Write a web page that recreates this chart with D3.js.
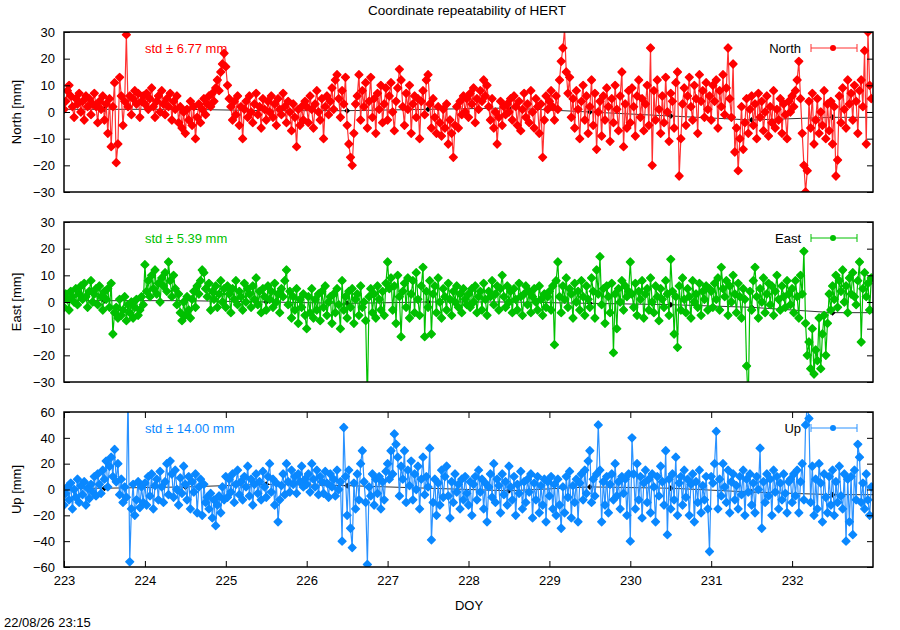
<!DOCTYPE html>
<html><head><meta charset="utf-8">
<script src="https://cdn.jsdelivr.net/npm/d3@7"></script>
<style>body{margin:0;background:#fff}svg{display:block;font-family:"Liberation Sans",Arial,sans-serif}</style>
</head><body><svg id="c" width="900" height="630"></svg>
<script>
// ---- data (half-hourly epochs starting at DOY 223.0) ----
const startDoy = 223;
const epochsPerDay = 48;
const xTicks = [223,224,225,226,227,228,229,230,231,232];
const north = [
 1,4,8,10,6,2,-2,5,3,7,0,4,-3,6,2,5,-1,3,7,2,-4,4,1,6,
 -3,3,-8,5,-13,2,11,-19,-12,13,6,-5,4,29,2,6,-1,5,8,3,7,-2,4,6,
 3,7,1,5,9,2,-2,4,6,0,8,3,-1,5,2,7,-3,4,1,6,-4,2,-6,0,
 -8,1,-3,4,-5,2,-10,-2,3,-4,1,5,-1,3,6,2,7,4,9,12,8,15,18,22,
 17,10,5,2,-3,4,-1,6,-5,2,-10,1,4,-2,6,0,-4,3,7,-1,2,-6,5,1,
 -3,4,0,6,-2,3,-5,5,1,-1,7,2,-4,4,0,-7,3,-2,-13,1,-5,2,-3,4,
 2,-4,6,1,-6,3,8,0,-3,5,-10,2,6,-1,4,9,1,12,14,5,-2,8,3,13,
 -5,-12,-17,-20,-8,3,6,14,-3,8,2,11,-6,4,13,-2,5,-8,7,1,10,-4,3,9,
 -3,6,11,0,-7,4,9,16,12,2,-5,7,1,10,-8,3,6,-2,5,-10,4,8,-1,12,
 14,3,-6,5,-2,-8,2,-4,-9,1,-6,3,-12,-3,-8,-17,-5,2,-6,4,-1,6,0,5,
 -2,7,3,9,-4,5,1,8,4,12,6,10,2,-3,5,-6,0,-12,-2,4,-5,2,-1,3,
 0,5,-3,6,2,-5,4,-7,1,7,-2,3,-4,8,0,-6,5,2,-8,3,-17,-3,6,1,
 4,8,2,-3,6,1,12,19,24,31,15,7,13,-2,5,-6,8,1,-10,4,10,-3,6,-8,
 2,12,-5,7,-14,0,4,-9,6,-3,9,2,-11,5,-4,10,1,-7,6,15,-13,3,-6,8,
 -4,9,2,-9,6,12,-2,5,-7,3,10,-5,24,-20,8,-3,12,1,-8,6,-4,13,0,-11,
 7,4,-6,11,15,-24,-10,3,9,-5,6,13,2,-3,10,5,-8,14,4,8,-2,11,1,6,
 -3,10,4,12,-6,8,2,14,-1,9,24,5,-2,18,-15,-6,-22,-10,2,-14,-4,5,-8,1,
 6,-5,3,-10,7,-2,4,-7,0,6,-9,2,-4,8,-6,1,-3,5,-8,3,-1,-10,4,0,
 6,2,8,12,19,5,-8,-20,-30,-22,4,-6,7,-12,-3,5,-8,0,-5,8,-10,3,-7,4,
 -12,2,-24,-18,6,-4,9,1,-6,12,3,7,-3,10,4,-8,8,12,2,23,-12,30,10,5
];
const east = [
 -2,3,1,-3,4,2,0,5,-1,3,6,1,7,2,-2,4,8,0,3,5,-1,6,2,-3,
 4,1,5,-2,7,-12,-4,-2,-6,1,-5,-3,2,-7,-1,-4,0,-6,-2,1,-5,-3,2,-1,
 14,4,8,2,10,5,12,3,7,0,9,6,11,4,15,8,2,10,5,-1,3,-4,-7,0,
 -5,2,-3,-6,1,4,-2,6,3,8,12,11,5,2,7,-3,4,1,6,-2,3,8,0,5,
 -2,6,3,-4,5,1,8,-1,4,2,-3,7,0,5,3,-2,6,1,9,-1,4,-4,5,2,
 -3,6,1,4,-2,7,0,3,-4,5,2,8,12,-1,4,-6,2,-3,5,-8,1,-2,3,-5,
 -10,2,-4,5,-6,1,-3,3,-7,4,-2,6,-5,0,2,-8,3,-4,5,-1,-10,8,-3,2,
 -6,4,-2,5,-8,1,3,-5,6,-2,0,-7,-38,2,5,-4,3,-6,6,1,-3,4,-5,7,
 15,5,9,-3,6,-8,10,2,-13,4,7,-2,9,-6,3,8,-4,11,1,-5,6,13,-13,4,
 -2,8,-12,3,6,-4,9,0,-6,5,2,-3,7,1,-5,4,0,6,-2,3,-4,5,1,-1,
 3,-2,5,0,6,-4,2,4,-3,7,1,-5,4,2,8,-1,3,6,-3,5,10,2,-2,6,
 0,4,-4,5,1,-3,7,2,-5,3,6,-1,4,-4,2,5,0,-3,6,1,-5,3,-2,2,
 4,-3,6,-16,8,15,2,-4,6,1,9,-2,5,3,-6,7,0,4,-3,8,2,-5,6,1,
 -2,9,4,-6,12,3,17,-1,5,-8,6,2,-4,7,-19,3,-10,5,0,8,-3,6,2,4,
 15,3,-2,7,-5,4,1,8,-6,3,5,-3,9,0,-4,6,2,-7,5,1,-2,8,3,-5,
 16,4,-12,2,-17,6,-3,9,1,-4,5,2,-6,8,0,3,-2,7,-5,4,1,6,-3,5,
 4,-2,7,1,9,-3,13,5,2,8,-5,6,0,10,3,-4,7,2,-6,5,1,-24,-38,4,
 -3,8,13,2,-6,5,0,9,-4,3,7,-1,6,-5,4,10,1,-3,6,2,-2,8,3,-1,
 5,-4,8,2,-6,10,3,19,-8,-20,-15,-25,-10,-27,-18,-22,-6,-25,-12,-5,-20,-8,3,-3,
 6,1,10,-2,8,4,12,0,6,-4,9,3,11,2,-1,8,15,-15,5,11,2,7,-3,9
];
const up = [
 -12,-3,2,-8,5,-15,0,-6,8,-10,3,-4,6,-12,1,-7,4,-2,10,-5,12,4,-3,15,
 8,22,2,18,25,10,31,6,20,-4,8,-10,2,-6,75,-56,-15,4,-20,-8,6,-14,2,-10,
 5,-12,10,-5,12,-15,3,8,-8,14,2,-10,6,20,-4,22,12,-6,15,0,-12,9,-3,18,
 4,-8,10,-15,6,-2,12,-18,2,8,-20,4,-10,-6,-15,-3,-22,-8,-28,-12,-5,-18,2,-8,
 10,-6,8,-2,12,-10,4,15,-4,6,-8,10,2,18,-5,8,-12,4,12,-3,6,-8,14,2,
 -6,10,20,-2,8,-12,5,-25,-8,3,12,-4,20,6,-2,15,4,10,-3,12,6,18,2,8,
 4,12,-2,20,8,2,15,-4,10,6,-3,14,5,-6,12,2,8,-5,15,0,6,-40,48,10,
 -20,15,-30,-45,5,-15,12,-8,20,30,6,-10,-58,2,-5,12,-12,8,-3,10,-15,6,-8,14,
 20,8,30,12,43,35,25,-5,18,8,30,-10,15,3,22,-8,12,0,18,-15,8,25,-4,10,
 2,32,-39,-10,8,-20,5,-12,15,-6,10,18,-5,-22,6,-10,12,-2,4,-15,8,-8,10,-3,
 -12,6,-20,4,10,-8,15,-2,8,-15,5,-25,2,12,-6,20,-10,8,3,-18,12,-4,6,-12,
 18,2,-8,10,-20,4,-3,14,-15,6,-10,8,-2,12,-22,5,-8,10,-18,3,-12,8,-25,6,
 -5,10,-15,4,-20,8,-12,-30,2,-18,10,-6,14,-22,3,-10,8,-25,5,12,-8,15,-3,22,
 30,-10,8,-5,12,50,15,-25,6,-12,10,-18,4,12,-8,20,-5,6,-15,10,-3,8,-20,12,
 -40,40,12,-15,20,-8,10,-22,5,15,-10,8,-18,12,2,-25,10,-5,18,6,-12,30,-35,8,
 -15,12,-8,25,-20,5,10,-12,15,-6,8,-20,4,12,-25,6,-10,15,-18,3,-8,10,-15,-48,
 10,5,20,45,-15,8,-5,20,2,-10,15,-18,6,12,-8,3,-15,10,-4,15,-20,8,-2,12,
 -12,5,-18,10,0,32,-30,6,-10,12,-5,8,-20,15,-2,10,-15,5,-8,12,-3,-18,6,8,
 -10,12,-5,15,-18,6,20,-8,50,65,55,-10,18,-20,8,-15,20,5,-25,12,-6,-18,10,-12,
 15,-20,6,-10,18,-5,-15,12,-40,8,-25,10,-35,15,-8,35,25,-10,5,-15,12,-8,-20,2
];
// daily reference (black) values at mid-day
const refDays = [223.5,224.5,225.5,226.5,227.5,228.5,229.5,230.5,231.5,232.5];
const northRef = [1,1,0.5,0.5,1,1.5,0,-1.5,-3,-2];
const eastRef  = [0.5,0.5,0,-0.5,0,0,-0.5,-1,-2,-4];
const upRef    = [1,2,4,3,1,-1,2,1,-2,-4];

const panels = [
 {name:"North", label:"North [mm]", vals:north, ref:northRef, color:"#ff0000", lcol:"#ff3030", std:"std \u00b1 6.77 mm", top:32, bottom:192, dom:[-30,30], ticks:[-30,-20,-10,0,10,20,30], xt:false},
 {name:"East", label:"East [mm]", vals:east, ref:eastRef, color:"#00c000", lcol:"#00c000", std:"std \u00b1 5.39 mm", top:222, bottom:382, dom:[-30,30], ticks:[-30,-20,-10,0,10,20,30], xt:false},
 {name:"Up", label:"Up [mm]", vals:up, ref:upRef, color:"#0a88ff", lcol:"#2a92ff", std:"std \u00b1 14.00 mm", top:412, bottom:567, dom:[-60,60], ticks:[-60,-40,-20,0,20,40,60], xt:true}
];

const svg = d3.select("#c");
const L = 64, R = 873;
const x = d3.scaleLinear().domain([223,233]).range([L,R]);
const diamond = (s)=>`M0,${-s}L${s},0L0,${s}L${-s},0Z`;

svg.append("text").attr("x",467).attr("y",15).attr("text-anchor","middle").attr("font-size",13.5).text("Coordinate repeatability of HERT");

panels.forEach((p,pi)=>{
  const y = d3.scaleLinear().domain(p.dom).range([p.bottom,p.top]);
  const g = svg.append("g");
  const cid = "clip"+pi;
  svg.append("clipPath").attr("id",cid).append("rect").attr("x",L).attr("y",p.top).attr("width",R-L).attr("height",p.bottom-p.top);
  const data = p.vals.map((v,i)=>({t:startDoy+i/epochsPerDay, v}));
  const dg = g.append("g").attr("clip-path",`url(#${cid})`);
  // black reference
  const refData = refDays.map((d,i)=>({t:d,v:p.ref[i]}));
  dg.append("path").datum([{t:223,v:p.ref[0]}].concat(refData,[{t:233,v:p.ref[p.ref.length-1]}]))
    .attr("fill","none").attr("stroke","#333").attr("stroke-width",1)
    .attr("d",d3.line().x(d=>x(d.t)).y(d=>y(d.v)));
  dg.selectAll(".rm").data(refData).join("path").attr("transform",d=>`translate(${x(d.t)},${y(d.v)})`).attr("d",diamond(3)).attr("fill","#000");
  // series
  dg.append("path").datum(data).attr("fill","none").attr("stroke",p.lcol).attr("stroke-width",1.2)
    .attr("d",d3.line().x(d=>x(d.t)).y(d=>y(d.v)));
  dg.selectAll(".pt").data(data.filter(d=>d.v>=p.dom[0]&&d.v<=p.dom[1])).join("path")
    .attr("transform",d=>`translate(${x(d.t)},${y(d.v)})`).attr("d",diamond(3.9))
    .attr("fill",p.color).attr("stroke",p.color).attr("stroke-width",1.4).attr("stroke-linejoin","round");
  // axes
  const yl = d3.axisLeft(y).tickValues(p.ticks).tickSize(-6).tickPadding(9);
  const ya = g.append("g").attr("transform",`translate(${L},0)`).call(yl);
  ya.select(".domain").remove();
  ya.selectAll("text").attr("font-size",13).attr("font-family","Liberation Sans, Arial, sans-serif").attr("fill","#000");
  const yr = g.append("g").attr("transform",`translate(${R},0)`).call(d3.axisRight(y).tickValues(p.ticks).tickSize(-6).tickFormat(""));
  yr.select(".domain").remove();
  if(p.xt){
    const xb = g.append("g").attr("transform",`translate(0,${p.bottom})`).call(d3.axisBottom(x).tickValues(xTicks).tickSize(-6).tickPadding(9).tickFormat(d3.format("d")));
    xb.select(".domain").remove();
    xb.selectAll("text").attr("font-size",13).attr("font-family","Liberation Sans, Arial, sans-serif").attr("fill","#000");
    const xtp = g.append("g").attr("transform",`translate(0,${p.top})`).call(d3.axisTop(x).tickValues(xTicks).tickSize(-6).tickFormat(""));
    xtp.select(".domain").remove();
  }
  g.append("rect").attr("x",L).attr("y",p.top).attr("width",R-L).attr("height",p.bottom-p.top).attr("fill","none").attr("stroke","#000").attr("stroke-width",1.5);
  // labels
  g.append("text").attr("transform",`translate(21,${(p.top+p.bottom)/2}) rotate(-90)`).attr("text-anchor","middle").attr("font-size",13).text(p.label);
  g.append("text").attr("x",145).attr("y",p.top+21).attr("font-size",13).attr("fill",p.color).text(p.std);
  // legend
  const ly = p.top+16;
  g.append("text").attr("x",801).attr("y",ly+5).attr("text-anchor","end").attr("font-size",13).text(p.name);
  const lg = g.append("g").attr("stroke",p.lcol).attr("stroke-width",1);
  lg.append("line").attr("x1",811).attr("x2",857).attr("y1",ly).attr("y2",ly);
  lg.append("line").attr("x1",811).attr("x2",811).attr("y1",ly-4).attr("y2",ly+4);
  lg.append("line").attr("x1",857).attr("x2",857).attr("y1",ly-4).attr("y2",ly+4);
  g.append("circle").attr("cx",833).attr("cy",ly).attr("r",3).attr("fill",p.color);
});

svg.append("text").attr("x",469).attr("y",610).attr("text-anchor","middle").attr("font-size",13).text("DOY");
svg.append("text").attr("x",4).attr("y",627).attr("font-size",13).text("22/08/26 23:15");
</script></body></html>
